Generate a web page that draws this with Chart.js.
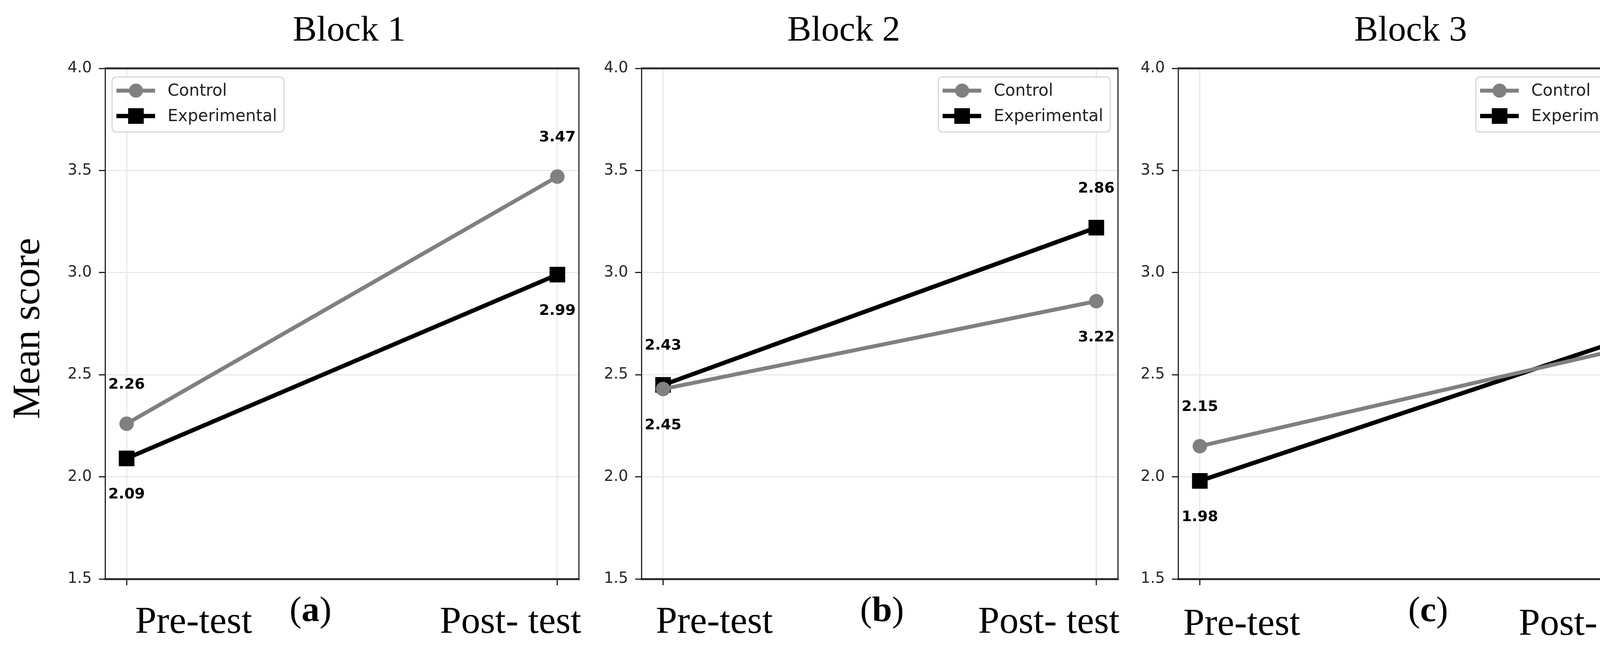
<!DOCTYPE html>
<html>
<head>
<meta charset="utf-8">
<script src="https://cdn.jsdelivr.net/npm/chart.js@4.4.1/dist/chart.umd.min.js"></script>
<style>
    html, body { margin: 0; padding: 0; background: #fff; }
    #wrap { position: relative; width: 4288px; height: 1669px; overflow: hidden; background: #fff; }
    #wrap canvas { position: absolute; left: 0; top: 0; }
</style>
</head>
<body>
<div id="wrap"></div>
<script>
// ---- data ----
const categories = ['Pre-test', 'Post- test'];
const xPositions = [0, 1];
const blockTitles = ['Block 1', 'Block 2', 'Block 3'];
const panelLetters = ['a', 'b', 'c'];
const seriesNames = ['Control', 'Experimental'];

const controlBlock1 = [2.26, 3.47];
const experimentalBlock1 = [2.09, 2.99];
const controlBlock2 = [2.43, 2.86];
const experimentalBlock2 = [2.45, 3.22];
const controlBlock3 = [2.15, 2.64];
const experimentalBlock3 = [1.98, 2.69];

const yMin = 1.5, yMax = 4.0, yStep = 0.5;

const controlSets = [controlBlock1, controlBlock2, controlBlock3];
const experimentalSets = [experimentalBlock1, experimentalBlock2, experimentalBlock3];

// ---- layout ----
const W = 4288, H = 1669;
const PLOT_TOP = 175, PLOT_BOTTOM = 1482;
const Y_AXIS_W = 150, X_AXIS_H = 30;
const SERIF = '"Liberation Serif", "Times New Roman", serif';
const SANS = '"DejaVu Sans", sans-serif';

const panels = [
    { left: 269, right: 1482, titleX: 894, preX: 346, tagX: 795, postRight: 1488, base: 1620, legend: 'left' },
    { left: 1642, right: 2862, titleX: 2160, preX: 1679, tagX: 2258, postRight: 2866, base: 1620, legend: 'right' },
    { left: 3016, right: 4238, titleX: 3611, preX: 3029, tagX: 3656, postRight: 4250, base: 1625, legend: 'right' }
];

const GRAY = '#808080', BLACK = '#000000';

/**
 * Spines, value labels, legend and the serif captions
 */
const overlay = {
    id: 'overlay',
    afterDatasetsDraw(chart, args, opts) {
        const ctx = chart.ctx;
        const a = chart.chartArea;
        const p = panels[opts.panel];

        // top and right spines
        ctx.save();
        ctx.strokeStyle = '#2a2a2a';
        ctx.lineWidth = 5;
        ctx.beginPath();
        ctx.moveTo(a.left - 1, a.top);
        ctx.lineTo(a.right + 1, a.top);
        ctx.stroke();
        ctx.lineWidth = 3;
        ctx.beginPath();
        ctx.moveTo(a.right, a.top);
        ctx.lineTo(a.right, a.bottom);
        ctx.stroke();

        // value labels: control text above the higher point, experimental below the lower one
        const c = chart.getDatasetMeta(0).data;
        const e = chart.getDatasetMeta(1).data;
        const cv = chart.data.datasets[0].data;
        const ev = chart.data.datasets[1].data;
        ctx.font = 'bold 38px ' + SANS;
        ctx.fillStyle = '#000';
        ctx.textAlign = 'center';
        ctx.textBaseline = 'middle';
        for (let j = 0; j < c.length; j++) {
            const topY = Math.min(c[j].y, e[j].y) - 100;
            const botY = Math.max(c[j].y, e[j].y) + 93;
            ctx.fillText(cv[j].y.toFixed(2), c[j].x, topY);
            ctx.fillText(ev[j].y.toFixed(2), e[j].x, botY);
        }

        // legend
        const bw = 440, bh = 141;
        const bx = p.legend === 'left' ? a.left + 18 : a.right - 20 - bw;
        const by = a.top + 22;
        ctx.beginPath();
        ctx.roundRect(bx, by, bw, bh, 10);
        ctx.fillStyle = 'rgba(255,255,255,0.85)';
        ctx.fill();
        ctx.strokeStyle = '#d8d8d8';
        ctx.lineWidth = 3;
        ctx.stroke();
        chart.data.datasets.forEach((ds, k) => {
            const y = by + 35 + k * 65;
            ctx.strokeStyle = ds.borderColor;
            ctx.lineWidth = ds.borderWidth;
            ctx.beginPath();
            ctx.moveTo(bx + 11, y);
            ctx.lineTo(bx + 110, y);
            ctx.stroke();
            ctx.fillStyle = ds.backgroundColor;
            if (ds.pointStyle === 'circle') {
                ctx.beginPath();
                ctx.arc(bx + 61, y, 18, 0, Math.PI * 2);
                ctx.fill();
            } else {
                ctx.fillRect(bx + 41, y - 20, 40, 40);
            }
            ctx.fillStyle = '#222';
            ctx.font = '42px ' + SANS;
            ctx.textAlign = 'left';
            ctx.textBaseline = 'middle';
            ctx.fillText(ds.label, bx + 142, y + 2);
        });
        ctx.restore();
    },
    afterDraw(chart, args, opts) {
        const ctx = chart.ctx;
        const p = panels[opts.panel];
        ctx.save();
        ctx.fillStyle = '#000';
        ctx.textBaseline = 'alphabetic';

        // block title
        ctx.font = '92px ' + SERIF;
        ctx.textAlign = 'center';
        ctx.fillText(blockTitles[opts.panel], p.titleX, 104);

        // category captions
        ctx.font = '98px ' + SERIF;
        ctx.textAlign = 'left';
        ctx.fillText(categories[0], p.preX, p.base);
        ctx.textAlign = 'right';
        ctx.fillText(categories[1], p.postRight, p.base);

        // panel tag (a) with bold letter
        ctx.textAlign = 'left';
        const normal = '92px ' + SERIF, bold = 'bold 92px ' + SERIF;
        ctx.font = normal;
        const wp = ctx.measureText('(').width, wq = ctx.measureText(')').width;
        ctx.font = bold;
        const wl = ctx.measureText(panelLetters[opts.panel]).width;
        let x = p.tagX - (wp + wl + wq) / 2;
        ctx.font = normal;
        ctx.fillText('(', x, 1590);
        ctx.font = bold;
        ctx.fillText(panelLetters[opts.panel], x + wp, 1590);
        ctx.font = normal;
        ctx.fillText(')', x + wp + wl, 1590);

        // shared y title
        if (opts.panel === 0) {
            ctx.translate(100, 841);
            ctx.rotate(-Math.PI / 2);
            ctx.textAlign = 'center';
            ctx.font = '100px ' + SERIF;
            ctx.fillText('Mean score', 0, 0);
        }
        ctx.restore();
    }
};

function gridOpts() {
    return {
        color: '#e8e8e8',
        lineWidth: 3,
        tickColor: '#222',
        tickWidth: 3,
        tickLength: 16
    };
}

function makeChart(i) {
    const canvas = document.createElement('canvas');
    canvas.width = W;
    canvas.height = H;
    document.getElementById('wrap').appendChild(canvas);
    const p = panels[i];

    return new Chart(canvas, {
        type: 'line',
        data: {
            datasets: [
                {
                    label: seriesNames[0],
                    data: xPositions.map((x, j) => ({ x: x, y: controlSets[i][j] })),
                    borderColor: GRAY,
                    backgroundColor: GRAY,
                    borderWidth: 10,
                    pointStyle: 'circle',
                    pointRadius: 18.5,
                    pointBorderWidth: 0,
                    pointBackgroundColor: GRAY,
                    clip: false
                },
                {
                    label: seriesNames[1],
                    data: xPositions.map((x, j) => ({ x: x, y: experimentalSets[i][j] })),
                    borderColor: BLACK,
                    backgroundColor: BLACK,
                    borderWidth: 11,
                    pointStyle: 'rect',
                    pointRadius: 28.3,
                    pointBorderWidth: 0,
                    pointBackgroundColor: BLACK,
                    clip: false
                }
            ]
        },
        options: {
            responsive: false,
            animation: false,
            devicePixelRatio: 1,
            layout: {
                padding: {
                    left: p.left - Y_AXIS_W,
                    right: W - p.right,
                    top: PLOT_TOP,
                    bottom: H - PLOT_BOTTOM - X_AXIS_H
                }
            },
            plugins: {
                legend: { display: false },
                tooltip: { enabled: false },
                overlay: { panel: i }
            },
            scales: {
                x: {
                    type: 'linear',
                    min: -0.05,
                    max: 1.05,
                    afterBuildTicks: s => { s.ticks = xPositions.map(v => ({ value: v })); },
                    afterFit: s => { s.height = X_AXIS_H; },
                    ticks: { callback: () => '' },
                    grid: gridOpts(),
                    border: { display: true, color: '#2a2a2a', width: 5 }
                },
                y: {
                    min: yMin,
                    max: yMax,
                    afterFit: s => { s.width = Y_AXIS_W; },
                    ticks: {
                        stepSize: yStep,
                        callback: v => Number(v).toFixed(1),
                        color: '#262626',
                        padding: 18,
                        font: { family: 'DejaVu Sans', size: 39 }
                    },
                    grid: gridOpts(),
                    border: { display: true, color: '#222', width: 3 }
                }
            }
        },
        plugins: [overlay]
    });
}

[0, 1, 2].forEach(makeChart);
</script>
</body>
</html>
